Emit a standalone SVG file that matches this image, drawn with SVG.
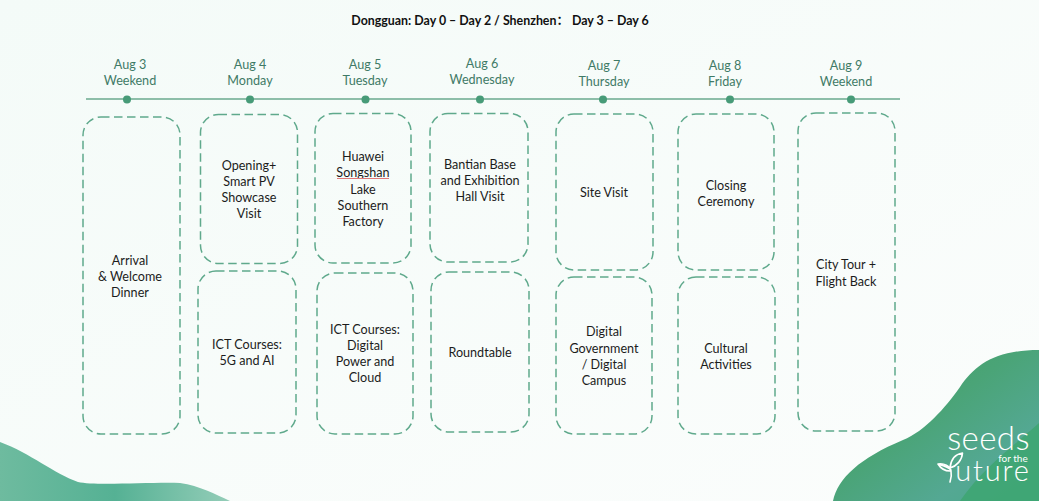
<svg xmlns="http://www.w3.org/2000/svg" width="1039" height="501" viewBox="0 0 1039 501">
<style>
text{font-family:"Lato","Noto Sans CJK SC","Liberation Sans",sans-serif;text-anchor:middle}
.t{font-size:12.6px;fill:#1c1c1c;transform:translateY(.5px)}
.d{font-size:12.6px;fill:#3f7a66;transform:translateY(.8px)}
.b{fill:none;stroke:#5fa98c;stroke-width:1.5;stroke-dasharray:8.500 4.500}
.dot{fill:#479b78}
.l{fill:#fff}
.ls{fill:none;stroke:#fff;stroke-width:1.600;stroke-linecap:round;stroke-linejoin:round}
</style>
<defs>
<linearGradient id="bg" x1="0" y1="0" x2="1" y2="1"><stop offset="0" stop-color="#f4fbf8"/><stop offset="1" stop-color="#fbfdfc"/></linearGradient>
<linearGradient id="g1" x1="0" y1="0" x2="1" y2="1"><stop offset="0" stop-color="#3f9e5f"/><stop offset=".45" stop-color="#4aa477"/><stop offset=".75" stop-color="#54a893"/><stop offset="1" stop-color="#4aa88a"/></linearGradient>
<linearGradient id="g2" x1="0" y1="0" x2="1" y2="0"><stop offset="0" stop-color="#6ebb9f"/><stop offset=".5" stop-color="#55b194"/><stop offset="1" stop-color="#94cdb8"/></linearGradient>
</defs>
<rect width="1039" height="501" fill="url(#bg)"/>
<path id="blob-left" d="M0 442C30 453 55 474 78 482C95 486 150 482 180 483C200 486 215 494 230 501L0 501Z" fill="url(#g2)"/>
<path d="M833 501C838 478 860 458 903 440C925 431 945 408 960 387C975 365 995 350 1039 350L1039 501Z" fill="url(#g1)"/>
<path d="M960 501C985 465 1015 445 1039 423L1039 501Z" fill="#3ca56f" opacity=".8"/>
<text x="500" y="24.500" style="font-size:12.4px;font-weight:700;fill:#111">Dongguan: Day 0 – Day 2 / Shenzhen： Day 3 – Day 6</text>
<g id="connectors">
<line x1="86" y1="99" x2="900" y2="99" stroke="#6aaa8e" stroke-width="1.6"/>
</g>
<g id="aug3"><text class="d" x="130" y="68">Aug 3</text><text class="d" x="130" y="84">Weekend</text><circle class="dot" cx="127" cy="99.500" r="4"/></g>
<g id="aug4"><text class="d" x="250" y="68">Aug 4</text><text class="d" x="250" y="84">Monday</text><circle class="dot" cx="250" cy="99.500" r="4"/></g>
<g id="aug5"><text class="d" x="365" y="68">Aug 5</text><text class="d" x="365" y="84">Tuesday</text><circle class="dot" cx="365.500" cy="99.500" r="4"/></g>
<g id="aug6"><text class="d" x="482" y="67">Aug 6</text><text class="d" x="482" y="83">Wednesday</text><circle class="dot" cx="480" cy="99.500" r="4"/></g>
<g id="aug7"><text class="d" x="604" y="69">Aug 7</text><text class="d" x="604" y="85">Thursday</text><circle class="dot" cx="603" cy="99.500" r="4"/></g>
<g id="aug8"><text class="d" x="725" y="69">Aug 8</text><text class="d" x="725" y="85">Friday</text><circle class="dot" cx="730" cy="99.500" r="4"/></g>
<g id="aug9"><text class="d" x="846" y="69">Aug 9</text><text class="d" x="846" y="85">Weekend</text><circle class="dot" cx="851" cy="99.500" r="4"/></g>

<g id="n-arrival"><rect class="b" x="83" y="117" width="97" height="317" rx="18"/><text class="t" x="130" y="264">Arrival</text><text class="t" x="130" y="280">&amp; Welcome</text><text class="t" x="130" y="296">Dinner</text></g>
<g id="n-opening"><rect class="b" x="200.500" y="114.500" width="97" height="149" rx="18"/><text class="t" x="249" y="169">Opening+</text><text class="t" x="249" y="185">Smart PV</text><text class="t" x="249" y="201">Showcase</text><text class="t" x="249" y="217">Visit</text></g>
<g id="n-ict1"><rect class="b" x="198" y="271" width="98" height="162" rx="18"/><text class="t" x="247" y="348">ICT Courses:</text><text class="t" x="247" y="364">5G and AI</text></g>
<g id="n-huawei"><rect class="b" x="315" y="113.500" width="96" height="149.500" rx="18"/><text class="t" x="363" y="160">Huawei</text><text class="t" x="363" y="176">Songshan</text><path d="M337 178.500H389" stroke="#e07878" stroke-width="1.100" fill="none"/><text class="t" x="363" y="193">Lake</text><text class="t" x="363" y="209">Southern</text><text class="t" x="363" y="225">Factory</text></g>
<g id="n-ict2"><rect class="b" x="317" y="273" width="96" height="161" rx="18"/><text class="t" x="365" y="333">ICT Courses:</text><text class="t" x="365" y="349">Digital</text><text class="t" x="365" y="365">Power and</text><text class="t" x="365" y="381">Cloud</text></g>
<g id="n-bantian"><rect class="b" x="430" y="113.500" width="98" height="148.500" rx="18"/><text class="t" x="480" y="168">Bantian Base</text><text class="t" x="480" y="184">and Exhibition</text><text class="t" x="480" y="200">Hall Visit</text></g>
<g id="n-round"><rect class="b" x="431" y="272" width="98" height="160" rx="18"/><text class="t" x="480" y="356">Roundtable</text></g>
<g id="n-site"><rect class="b" x="556" y="114" width="97" height="156" rx="18"/><text class="t" x="604" y="196">Site Visit</text></g>
<g id="n-digital"><rect class="b" x="556" y="277" width="96" height="157" rx="18"/><text class="t" x="604" y="335">Digital</text><text class="t" x="604" y="352">Government</text><text class="t" x="604" y="368">/ Digital</text><text class="t" x="604" y="384">Campus</text></g>
<g id="n-closing"><rect class="b" x="678" y="114" width="96" height="156" rx="18"/><text class="t" x="726" y="189">Closing</text><text class="t" x="726" y="205">Ceremony</text></g>
<g id="n-cultural"><rect class="b" x="678" y="277" width="97" height="157" rx="18"/><text class="t" x="726" y="352">Cultural</text><text class="t" x="726" y="368">Activities</text></g>
<g id="n-city"><rect class="b" x="798" y="113" width="97" height="318" rx="18"/><text class="t" x="846" y="268">City Tour +</text><text class="t" x="846" y="285">Flight Back</text></g>

<g id="logo">
<text class="l"><tspan x="988.500" y="450" style="font-size:33px;font-weight:300;letter-spacing:.4px">seeds</tspan><tspan x="1013" y="462" style="font-size:10px">for the</tspan><tspan x="993" y="481" style="font-size:29px;font-weight:300;letter-spacing:1.800px">uture</tspan></text>
<path class="ls" d="M938 464C944 463 950 466 951 471C952 476 951 479 950 482M951 470C948 467 944 466 938 464C941 469 946 471 950 471M950 468C951 458 956 454 962.500 453C962 460 957 466 950 468Z"/>
</g>
</svg>
